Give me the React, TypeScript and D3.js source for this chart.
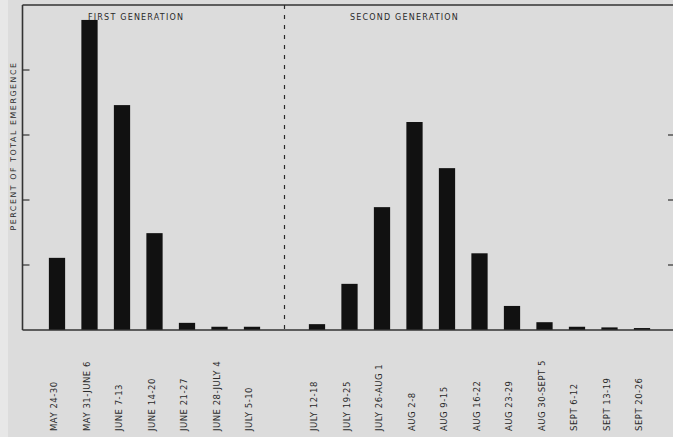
import React, { useRef, useEffect } from "react";
import * as d3 from "d3";

// weekly periods, first generation then second generation
const firstLabels = [
	"MAY 24-30",
	"MAY 31-JUNE 6",
	"JUNE 7-13",
	"JUNE 14-20",
	"JUNE 21-27",
	"JUNE 28-JULY 4",
	"JULY 5-10",
];
const firstValues = [11.1, 47.7, 34.6, 14.9, 1.1, 0.5, 0.5];

const secondLabels = [
	"JULY 12-18",
	"JULY 19-25",
	"JULY 26-AUG 1",
	"AUG 2-8",
	"AUG 9-15",
	"AUG 16-22",
	"AUG 23-29",
	"AUG 30-SEPT 5",
	"SEPT 6-12",
	"SEPT 13-19",
	"SEPT 20-26",
];
const secondValues = [0.9, 7.1, 18.9, 32.0, 24.9, 11.8, 3.7, 1.2, 0.5, 0.4, 0.3];

const yTicks = [10, 20, 30, 40];
const yLabel = "PERCENT OF TOTAL EMERGENCE";
const groupTitles = ["FIRST GENERATION", "SECOND GENERATION"];

const App = () => {
	const ref = useRef<SVGSVGElement>(null);
	const width = 673;
	const height = 437;
	const left = 22.5;
	const top = 5;
	const bottom = 330;

	useEffect(() => {
		const svg = d3.select(ref.current);
		svg.selectAll("*").remove();

		// one empty slot between the generations holds the dashed divider
		const slots = [
			...firstLabels.map((l, i) => ({ label: l, value: firstValues[i] })),
			{ label: "", value: null },
			...secondLabels.map((l, i) => ({ label: l, value: secondValues[i] })),
		];

		const x = d3
			.scaleBand<number>()
			.domain(d3.range(slots.length))
			.range([40.75, 658.25])
			.paddingInner(0.5)
			.paddingOuter(0.25);
		const y = d3.scaleLinear().domain([0, 50]).range([bottom, top]);

		// background
		svg.append("rect").attr("width", width).attr("height", height).attr("fill", "#dcdcdc");
		svg.append("rect").attr("width", 8).attr("height", height).attr("fill", "#e7e7e7");

		const font = "'DejaVu Sans', Verdana, sans-serif";
		const ink = "#2a2a2a";
		const axisInk = "#333";

		// bars
		svg
			.selectAll(".bar")
			.data(slots.map((d, i) => ({ ...d, i })).filter((d) => d.value !== null))
			.enter()
			.append("rect")
			.attr("class", "bar")
			.attr("x", (d) => x(d.i)!)
			.attr("y", (d) => y(d.value as number))
			.attr("width", x.bandwidth())
			.attr("height", (d) => bottom - y(d.value as number))
			.attr("fill", "#111");

		// frame: left axis, top edge, baseline
		svg
			.append("line")
			.attr("x1", left)
			.attr("x2", left)
			.attr("y1", top)
			.attr("y2", bottom)
			.attr("stroke", axisInk)
			.attr("stroke-width", 1.6);
		svg
			.append("line")
			.attr("x1", left)
			.attr("x2", width)
			.attr("y1", top)
			.attr("y2", top)
			.attr("stroke", axisInk)
			.attr("stroke-width", 1.6);
		svg
			.append("line")
			.attr("x1", left)
			.attr("x2", width)
			.attr("y1", bottom)
			.attr("y2", bottom)
			.attr("stroke", axisInk)
			.attr("stroke-width", 1.5);

		// ticks on both sides, pointing inward
		svg
			.selectAll(".ltick")
			.data(yTicks)
			.enter()
			.append("line")
			.attr("x1", left)
			.attr("x2", left + 7)
			.attr("y1", (d) => y(d))
			.attr("y2", (d) => y(d))
			.attr("stroke", axisInk)
			.attr("stroke-width", 1.2);
		svg
			.selectAll(".rtick")
			.data(yTicks.slice(0, 3))
			.enter()
			.append("line")
			.attr("x1", width - 5)
			.attr("x2", width)
			.attr("y1", (d) => y(d))
			.attr("y2", (d) => y(d))
			.attr("stroke", axisInk)
			.attr("stroke-width", 1.2);

		// divider between generations
		const divX = x(7)! + x.bandwidth() / 2;
		svg
			.append("line")
			.attr("x1", divX)
			.attr("x2", divX)
			.attr("y1", top)
			.attr("y2", bottom)
			.attr("stroke", ink)
			.attr("stroke-width", 1.2)
			.attr("stroke-dasharray", "4,6");

		// group titles
		svg
			.selectAll(".title")
			.data(groupTitles)
			.enter()
			.append("text")
			.attr("x", (d, i) => (i === 0 ? 88 : 350))
			.attr("y", 20)
			.attr("font-family", font)
			.attr("font-size", 8)
			.attr("letter-spacing", 1.2)
			.attr("fill", ink)
			.text((d) => d);

		// y label
		svg
			.append("text")
			.attr("transform", `translate(16,${(60 + 232) / 2}) rotate(-90)`)
			.attr("text-anchor", "middle")
			.attr("font-family", font)
			.attr("font-size", 7.8)
			.attr("letter-spacing", 1.6)
			.attr("fill", ink)
			.text(yLabel);

		// period labels, read bottom to top
		svg
			.selectAll(".xlabel")
			.data(slots.map((d, i) => ({ ...d, i })).filter((d) => d.label))
			.enter()
			.append("text")
			.attr("transform", (d) => `translate(${x(d.i)! + x.bandwidth() / 2},431) rotate(-90)`)
			.attr("font-family", font)
			.attr("font-size", 8.5)
			.attr("letter-spacing", 0.5)
			.attr("fill", ink)
			.text((d) => d.label);
	}, []);

	return (
		<svg
			ref={ref}
			width={width}
			height={height}
			style={{ display: "block", position: "absolute", left: 0, top: 0 }}
		/>
	);
};

export default App;
